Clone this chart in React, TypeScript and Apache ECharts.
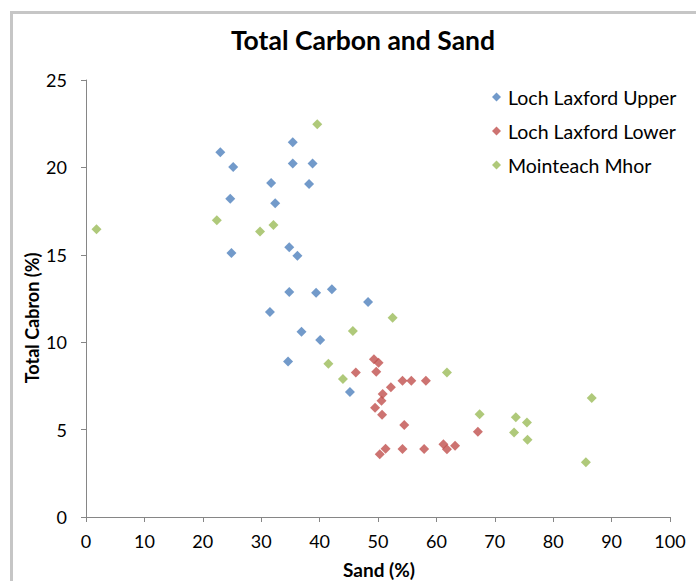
import React, { useEffect, useRef } from "react";
import * as echarts from "echarts";

const seriesNames = ["Loch Laxford Upper", "Loch Laxford Lower", "Mointeach Mhor"];

const upperSand = [23.0, 25.2, 35.4, 35.4, 38.8, 31.7, 38.2, 24.7, 32.4, 34.8, 36.2, 24.9, 34.8, 39.4, 42.1, 48.3, 31.5, 36.9, 40.1, 34.6, 45.2];
const upperCarbon = [20.86, 20.02, 21.44, 20.23, 20.23, 19.11, 19.05, 18.21, 17.95, 15.43, 14.95, 15.1, 12.87, 12.83, 13.03, 12.3, 11.73, 10.6, 10.13, 8.9, 7.15];

const lowerSand = [49.3, 50.1, 46.2, 49.7, 54.2, 55.7, 58.2, 52.2, 50.8, 50.6, 49.5, 50.7, 54.5, 67.1, 51.3, 50.3, 54.2, 57.9, 61.2, 61.8, 63.2];
const lowerCarbon = [9.02, 8.83, 8.26, 8.31, 7.8, 7.8, 7.8, 7.42, 7.04, 6.65, 6.25, 5.85, 5.26, 4.88, 3.91, 3.59, 3.89, 3.89, 4.16, 3.87, 4.08];

const mhorSand = [39.6, 1.8, 22.4, 29.8, 32.1, 52.5, 45.7, 41.5, 44.0, 61.8, 67.4, 86.6, 73.6, 75.5, 73.3, 75.6, 85.6];
const mhorCarbon = [22.47, 16.46, 16.97, 16.34, 16.7, 11.4, 10.64, 8.77, 7.89, 8.26, 5.88, 6.81, 5.7, 5.4, 4.84, 4.42, 3.13];

const colors = ["#4f81bd", "#c0504d", "#9bbb59"];

const FONT = "Lato, 'Open Sans', sans-serif";

function pairs(xs: number[], ys: number[]) {
  return xs.map((x, i) => [x, ys[i]]);
}

export default function App() {
  const ref = useRef<HTMLDivElement>(null);
  useEffect(() => {
    document.body.style.margin = "0";
    if (!ref.current) return;
    const chart = echarts.init(ref.current, null, { renderer: "svg" });
    const data = [pairs(upperSand, upperCarbon), pairs(lowerSand, lowerCarbon), pairs(mhorSand, mhorCarbon)];
    chart.setOption({
      animation: false,
      backgroundColor: "#ffffff",
      grid: { left: 86, right: 26, top: 80, bottom: 64 },
      graphic: [
        {
          type: "rect",
          shape: { x: 11.5, y: 12.5, width: 720, height: 620 },
          style: { fill: "none", stroke: "#c6c6c6", lineWidth: 3 },
          silent: true,
        },
        {
          type: "text",
          x: 363,
          y: 40,
          style: {
            text: "Total Carbon and Sand",
            font: `bold 26.5px ${FONT}`,
            fill: "#000",
            textAlign: "center",
            textVerticalAlign: "middle",
          },
        },
        {
          type: "text",
          x: 379,
          y: 569,
          style: {
            text: "Sand (%)",
            font: `bold 19px ${FONT}`,
            fill: "#000",
            textAlign: "center",
            textVerticalAlign: "middle",
          },
        },
        {
          type: "text",
          x: 32,
          y: 318,
          rotation: Math.PI / 2,
          style: {
            text: "Total Cabron (%)",
            font: `bold 18px ${FONT}`,
            fill: "#000",
            textAlign: "center",
            textVerticalAlign: "middle",
          },
        },
      ],
      legend: {
        orient: "vertical",
        left: 487,
        top: 82,
        itemWidth: 9,
        itemHeight: 9,
        itemGap: 14,
        icon: "diamond",
        data: seriesNames,
        textStyle: { fontFamily: FONT, fontSize: 19.5, color: "#000", padding: [0, 0, 0, 2] },
      },
      xAxis: {
        type: "value",
        min: 0,
        max: 100,
        interval: 10,
        splitLine: { show: false },
        axisLine: { show: true, onZero: false, lineStyle: { color: "#868686", width: 1 } },
        axisTick: { show: true, inside: false, length: 5, lineStyle: { color: "#868686" } },
        axisLabel: { fontFamily: FONT, fontSize: 18, color: "#000", margin: 15 },
      },
      yAxis: {
        type: "value",
        min: 0,
        max: 25,
        interval: 5,
        splitLine: { show: false },
        axisLine: { show: true, onZero: false, lineStyle: { color: "#868686", width: 1 } },
        axisTick: { show: true, inside: false, length: 5, lineStyle: { color: "#868686" } },
        axisLabel: { fontFamily: FONT, fontSize: 18, color: "#000", margin: 19 },
      },
      series: seriesNames.map((name, i) => ({
        name,
        type: "scatter",
        symbol: "diamond",
        symbolSize: 10,
        itemStyle: { color: colors[i] },
        data: data[i],
      })),
    });
    return () => chart.dispose();
  }, []);
  return <div ref={ref} style={{ width: 696, height: 581 }} />;
}
